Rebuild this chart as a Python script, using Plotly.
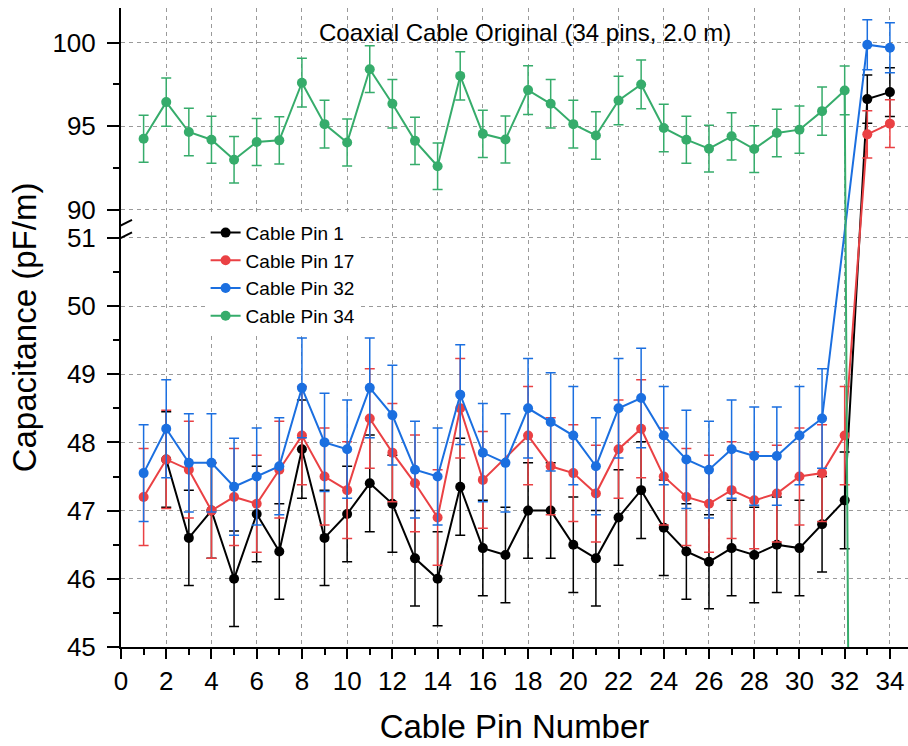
import plotly.graph_objects as go

# ---- measured data -------------------------------------------------------
pins = list(range(1, 35))

pin1_cap = [None, 47.75, 46.60, 47.00, 46.00, 46.95, 46.40, 47.90, 46.60, 46.95,
            47.40, 47.10, 46.30, 46.00, 47.35, 46.45, 46.35, 47.00, 47.00, 46.50,
            46.30, 46.90, 47.30, 46.75, 46.40, 46.25, 46.45, 46.35, 46.50, 46.45,
            46.80, 47.15, 96.62, 97.04]
pin1_err = [None, 0.70, 0.70, 0.70, 0.70, 0.70, 0.70, 0.72, 0.70, 0.70,
            0.71, 0.71, 0.70, 0.69, 0.71, 0.70, 0.70, 0.70, 0.70, 0.70,
            0.70, 0.70, 0.71, 0.70, 0.70, 0.69, 0.70, 0.70, 0.70, 0.70,
            0.70, 0.71, 1.45, 1.46]

pin17_cap = [47.20, 47.75, 47.60, 47.00, 47.20, 47.10, 47.60, 48.10, 47.50, 47.30,
             48.35, 47.85, 47.40, 46.90, 48.50, 47.45, None, 48.10, 47.65, 47.55,
             47.25, 47.90, 48.20, 47.50, 47.20, 47.10, 47.30, 47.15, 47.25, 47.50,
             47.55, 48.10, 94.51, 95.15]
pin17_err = [0.71, 0.72, 0.71, 0.70, 0.71, 0.71, 0.71, 0.72, 0.71, 0.71,
             0.73, 0.72, 0.71, 0.70, 0.73, 0.71, None, 0.72, 0.71, 0.71,
             0.71, 0.72, 0.72, 0.71, 0.71, 0.71, 0.71, 0.71, 0.71, 0.71,
             0.71, 0.72, 1.42, 1.43]

pin32_cap = [47.55, 48.20, 47.70, 47.70, 47.35, 47.50, 47.65, 48.80, 48.00, 47.90,
             48.80, 48.40, 47.60, 47.50, 48.70, 47.85, 47.70, 48.50, 48.30, 48.10,
             47.65, 48.50, 48.65, 48.10, 47.75, 47.60, 47.90, 47.80, 47.80, 48.10,
             48.35, None, 99.88, 99.70]
pin32_err = [0.71, 0.72, 0.72, 0.72, 0.71, 0.71, 0.71, 0.73, 0.72, 0.72,
             0.73, 0.73, 0.71, 0.71, 0.73, 0.72, 0.72, 0.73, 0.72, 0.72,
             0.71, 0.73, 0.73, 0.72, 0.72, 0.71, 0.72, 0.72, 0.72, 0.72,
             0.73, None, 1.50, 1.50]

pin34_cap = [94.25, 96.44, 94.65, 94.19, 92.99, 94.05, 94.15, 97.60, 95.12, 94.02,
             98.41, 96.34, 94.12, 92.60, 98.01, 94.54, 94.20, 97.16, 96.34, 95.12,
             94.44, 96.54, 97.50, 94.89, 94.19, 93.65, 94.39, 93.63, 94.59, 94.79,
             95.90, 97.14, 0.0, None]
pin34_err = [1.41, 1.45, 1.42, 1.41, 1.39, 1.41, 1.41, 1.46, 1.43, 1.41,
             1.40, 1.45, 1.41, 1.39, 1.44, 1.42, 1.41, 1.46, 1.45, 1.43,
             1.42, 1.45, 1.46, 1.42, 1.41, 1.40, 1.42, 1.40, 1.42, 1.42,
             1.44, 1.46, 0.0, None]

series_names = ["Cable Pin 1", "Cable Pin 17", "Cable Pin 32", "Cable Pin 34"]
series_colors = ["#000000", "#EA4144", "#1B6FE0", "#36AC6B"]

lower_ticks = [45, 46, 47, 48, 49, 50, 51]
upper_ticks = [90, 95, 100]

# ---- broken y axis: lower segment 45-51, upper segment 90-102 ------------
BREAK_LO, BREAK_HI = 51, 90
GAP = 0.413          # gap between the two segments, in lower-segment units
UPPER_SCALE = 0.2448 # one upper unit expressed in lower-segment units


def to_axis(v):
    if v is None:
        return None
    if v >= BREAK_HI:
        return BREAK_LO + GAP + (v - BREAK_HI) * UPPER_SCALE
    return v


def err_to_axis(v, e):
    if v is None or e is None:
        return None
    return e * UPPER_SCALE if v >= BREAK_HI else e


fig = go.Figure()
for name, color, vals, errs in zip(
        series_names, series_colors,
        [pin1_cap, pin17_cap, pin32_cap, pin34_cap],
        [pin1_err, pin17_err, pin32_err, pin34_err]):
    fig.add_trace(go.Scatter(
        x=pins,
        y=[to_axis(v) for v in vals],
        mode="lines+markers",
        name=name,
        connectgaps=True,
        line=dict(color=color, width=2),
        marker=dict(color=color, size=10),
        error_y=dict(type="data",
                     array=[err_to_axis(v, e) for v, e in zip(vals, errs)],
                     color=color, thickness=1.5, width=5),
        cliponaxis=True,
    ))

tickvals = [to_axis(v) for v in lower_ticks + upper_ticks]
ticktext = [str(v) for v in lower_ticks + upper_ticks]
minor_vals = [to_axis(v) for v in [45.5, 46.5, 47.5, 48.5, 49.5, 50.5, 92.5, 97.5]]

grid_dash = "4px,4px"
FONT = "Liberation Sans, Arial, sans-serif"

fig.update_layout(
    width=908, height=746,
    margin=dict(l=121, r=0, t=8, b=99),
    paper_bgcolor="white", plot_bgcolor="white",
    font=dict(family=FONT, color="black"),
    showlegend=True,
    legend=dict(x=0.1075, y=0.678, xanchor="left", yanchor="top",
                bgcolor="white", borderwidth=0,
                font=dict(size=19, family=FONT, color="black"),
                tracegroupgap=0),
    xaxis=dict(
        range=[0, 34.8],
        tickmode="array", tickvals=list(range(0, 35, 2)),
        ticks="outside", ticklen=10, tickwidth=2, tickcolor="black",
        tickfont=dict(size=26, family=FONT),
        showline=True, linecolor="black", linewidth=2,
        showgrid=True, gridcolor="#9a9a9a", gridwidth=1, griddash=grid_dash,
        zeroline=False,
        minor=dict(dtick=1, tick0=0, ticks="outside", ticklen=6, tickwidth=2,
                   tickcolor="black", showgrid=False),
        title=dict(text="Cable Pin Number", font=dict(size=33, family=FONT),
                   standoff=20),
    ),
    yaxis=dict(
        range=[45, 45 + 639 / 68.2],
        tickmode="array", tickvals=tickvals, ticktext=ticktext,
        ticks="outside", ticklen=12, tickwidth=2, tickcolor="black",
        tickfont=dict(size=26, family=FONT), ticklabelstandoff=6,
        showline=True, linecolor="black", linewidth=2,
        showgrid=True, gridcolor="#9a9a9a", gridwidth=1, griddash=grid_dash,
        zeroline=False,
        minor=dict(tickmode="array", tickvals=minor_vals, ticks="outside",
                   ticklen=6, tickwidth=2, tickcolor="black", showgrid=False),
        title=dict(text="Capacitance (pF/m)", font=dict(size=33, family=FONT),
                   standoff=6),
    ),
)

# slanted break marks on the y axis line
for offset in (0, 12.5):
    fig.add_shape(type="line", xref="x", yref="y",
                  xsizemode="pixel", ysizemode="pixel",
                  xanchor=0, yanchor=BREAK_LO,
                  x0=-11, x1=11, y0=offset - 5.5, y1=offset + 5.5,
                  line=dict(color="black", width=2))

fig.add_annotation(text="Coaxial Cable Original (34 pins, 2.0 m)",
                   xref="paper", yref="paper", x=0.513, y=0.962,
                   xanchor="center", yanchor="middle", showarrow=False,
                   font=dict(size=24, family=FONT, color="black"))

fig.write_html("out.html")
